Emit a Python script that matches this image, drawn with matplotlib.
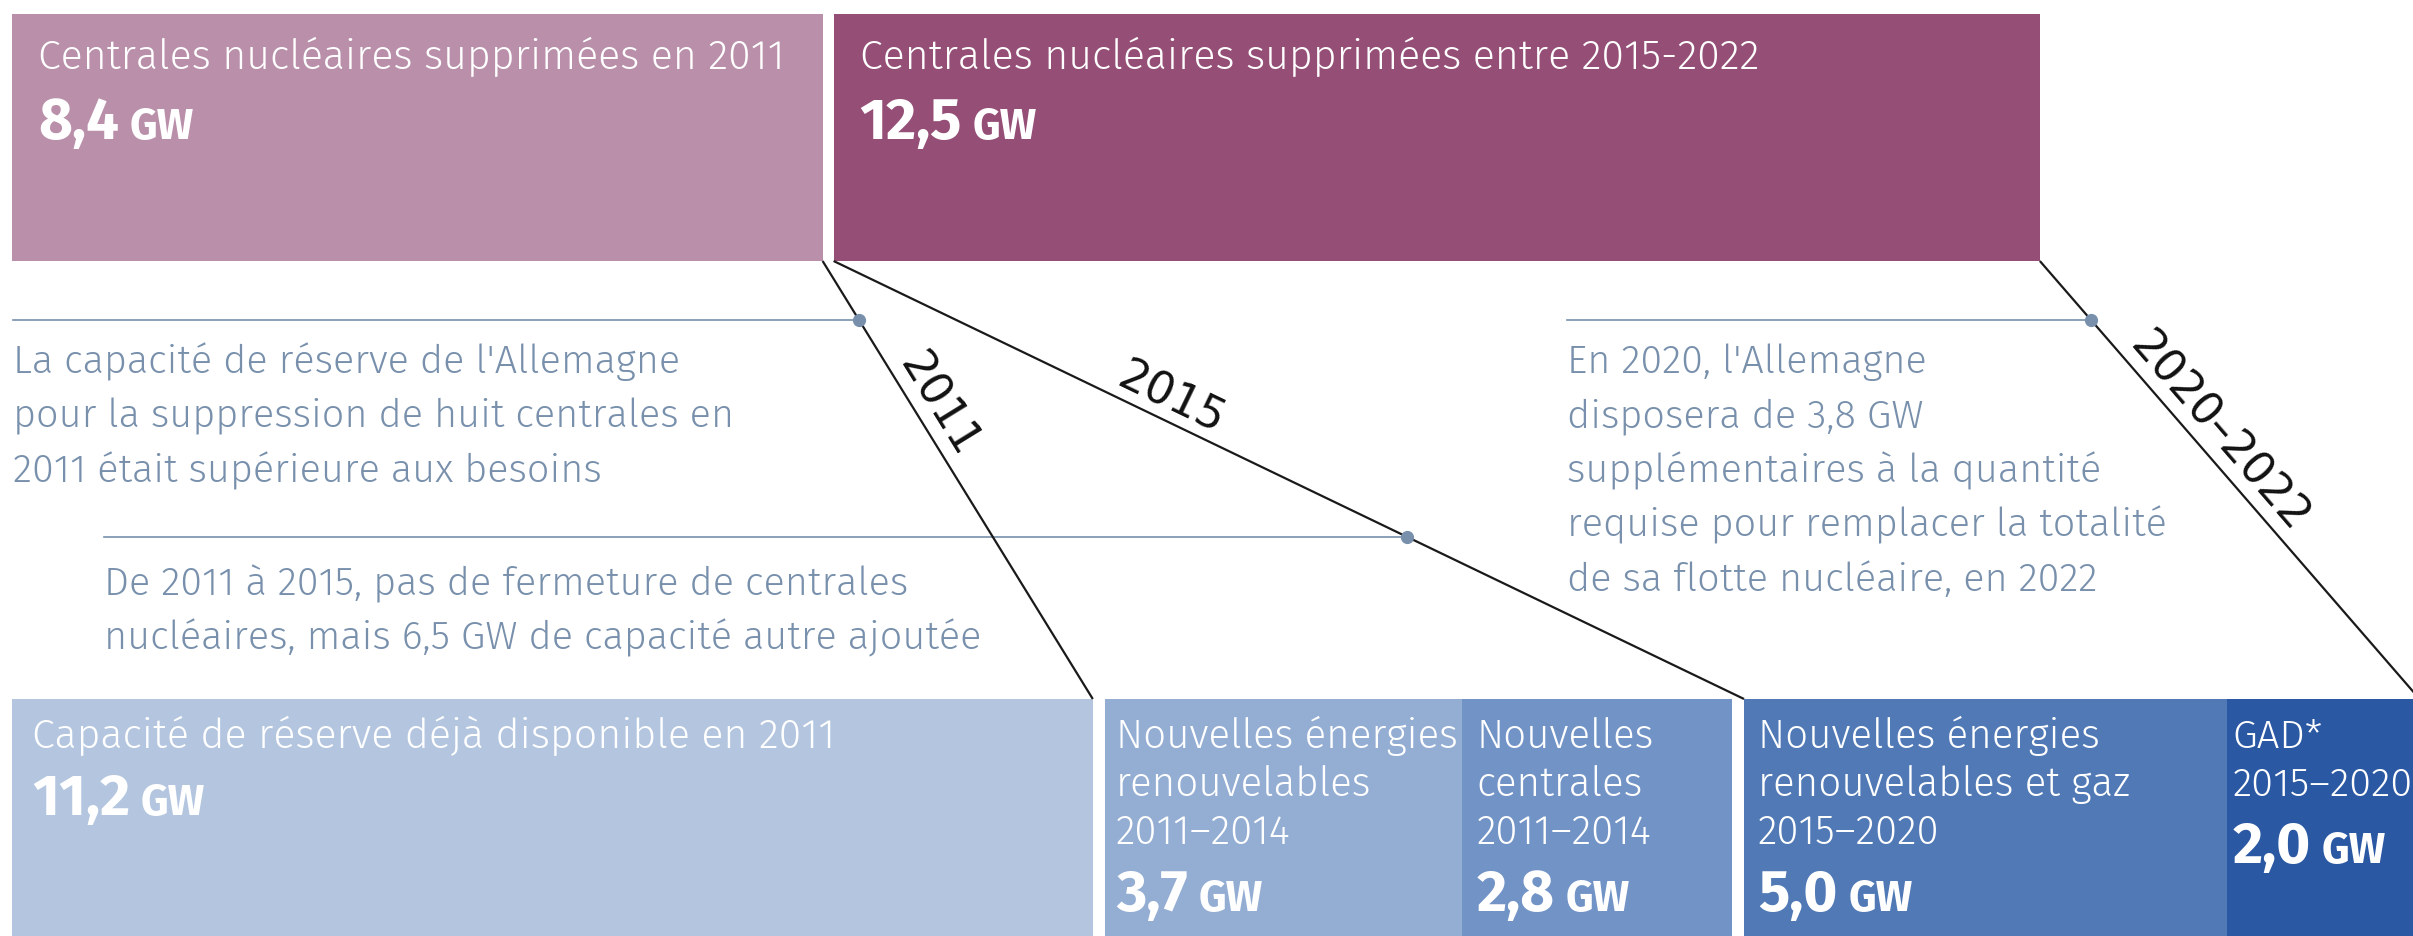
import numpy as np
import matplotlib
matplotlib.use('Agg')
import matplotlib.pyplot as plt
from matplotlib import font_manager

# ---- data (GW) ----
top_titles = ['Centrales nucléaires supprimées en 2011',
              'Centrales nucléaires supprimées entre 2015-2022']
top_values = [8.4, 12.5]
top_colors = ['#b98faa', '#954f77']

bottom_titles = [['Capacité de réserve déjà disponible en 2011'],
                 ['Nouvelles énergies', 'renouvelables', '2011–2014'],
                 ['Nouvelles', 'centrales', '2011–2014'],
                 ['Nouvelles énergies', 'renouvelables et gaz', '2015–2020'],
                 ['GAD*', '2015–2020']]
bottom_values = [11.2, 3.7, 2.8, 5.0, 2.0]
bottom_groups = [0, 1, 1, 2, 2]
bottom_colors = ['#b4c6df', '#93add3', '#7293c6', '#5079b5', '#2b58a3']

# connectors: (top box, side) -> (bottom box, side), label
link_top = [(0, 1), (1, 0), (1, 1)]
link_bottom = [(0, 1), (3, 0), (4, 1)]
link_labels = ['2011', '2015', '2020–2022']

notes = [["La capacité de réserve de l'Allemagne",
          'pour la suppression de huit centrales en',
          '2011 était supérieure aux besoins'],
         ['De 2011 à 2015, pas de fermeture de centrales',
          'nucléaires, mais 6,5 GW de capacité autre ajoutée'],
         ["En 2020, l'Allemagne",
          'disposera de 3,8 GW',
          'supplémentaires à la quantité',
          'requise pour remplacer la totalité',
          'de sa flotte nucléaire, en 2022']]

# ---- layout (pixels) ----
W, H = 2413, 937
PPG = 96.5                      # pixels per GW
TOP_Y0, TOP_Y1 = 15, 262
BOT_Y0, BOT_Y1 = 700, 937
note_x = [13, 104, 1567]
note_y = [321, 538, 321]
note_base = [373, 595, 373]
note_step = 54.5
bot_pad = [20, 11, 15, 14, 6]
bot_fs = [29.6, 29.0, 29.0, 29.0, 28.8]
label_t = [0.355, 0.36, 0.425]

def px(v):
    return v / PPG

avail = {f.name for f in font_manager.fontManager.ttflist}
fam = [f for f in ['Fira Sans', 'Open Sans'] if f in avail] + ['DejaVu Sans']
plt.rcParams['font.family'] = fam

fig = plt.figure(figsize=(W / 100, H / 100), dpi=100)
ax = fig.add_axes([0, 0, 1, 1])
ax.set_xlim(0, px(W))
ax.set_ylim(H, 0)
ax.axis('off')

# box positions in GW
top_left = []
x = px(12)
for v in top_values:
    top_left.append(x)
    x += v + px(11)

bot_left = []
x = px(12)
prev = bottom_groups[0]
for v, g in zip(bottom_values, bottom_groups):
    if g != prev:
        x += px(12)
        prev = g
    bot_left.append(x)
    x += v

ax.bar(top_left, [TOP_Y1 - TOP_Y0] * len(top_values), width=top_values, bottom=TOP_Y0,
       align='edge', color=top_colors, linewidth=0)
ax.bar(bot_left, [BOT_Y1 - BOT_Y0] * len(bottom_values), width=bottom_values, bottom=BOT_Y0,
       align='edge', color=bottom_colors, linewidth=0)

note_col = '#7890ac'
title_fs = 29.6
num_fs = 42
gw_fs = 31

def number(xp, yb, val):
    t = ax.text(xp, yb, f'{val:.1f}'.replace('.', ','), color='white', fontsize=num_fs,
                fontweight='bold', va='baseline', ha='left')
    ax.annotate('GW', xy=(1, yb), xycoords=(t, 'data'), xytext=(11, 0),
                textcoords='offset pixels', color='white', fontsize=gw_fs,
                fontweight='bold', va='baseline', ha='left')

# top box texts
for i in range(len(top_values)):
    xp = top_left[i] + px(26)
    ax.text(xp, 69, top_titles[i], color='white', fontsize=title_fs, fontweight=300,
            va='baseline', ha='left')
    number(xp, 139, top_values[i])

# bottom box texts
for i in range(len(bottom_values)):
    xp = bot_left[i] + px(bot_pad[i])
    yb = 748
    for k, line in enumerate(bottom_titles[i]):
        yb = 748 + 48 * k
        ax.text(xp, yb, line, color='white', fontsize=bot_fs[i], fontweight=300,
                va='baseline', ha='left')
    number(xp, yb + 67, bottom_values[i])

# connectors
ends = []
for (ti, ts), (bi, bs) in zip(link_top, link_bottom):
    x0 = top_left[ti] + ts * top_values[ti]
    x1 = bot_left[bi] + bs * bottom_values[bi]
    ax.plot([x0, x1], [TOP_Y1, BOT_Y0], color='#1a1a1a', lw=1.6, solid_capstyle='butt', zorder=3)
    ends.append((x0, x1))

for (x0, x1), lab, t in zip(ends, link_labels, label_t):
    d0 = ax.transData.transform((x0, TOP_Y1))
    d1 = ax.transData.transform((x1, BOT_Y0))
    ang = np.degrees(np.arctan2(d1[1] - d0[1], d1[0] - d0[0]))
    nx, ny = -np.sin(np.radians(ang)), np.cos(np.radians(ang))
    xy = (x0 + t * (x1 - x0), TOP_Y1 + t * (BOT_Y0 - TOP_Y1))
    ax.annotate(lab, xy=xy, xytext=(2 * nx, 2 * ny), textcoords='offset pixels',
                rotation=ang, rotation_mode='anchor', ha='center', va='bottom',
                fontsize=32, color='#111111', family='DejaVu Sans')

# notes with leader lines and dots
for k, lines in enumerate(notes):
    x0, x1 = ends[k]
    yd = note_y[k]
    xd = x0 + (yd - TOP_Y1) / (BOT_Y0 - TOP_Y1) * (x1 - x0)
    ax.plot([px(note_x[k]), xd], [yd, yd], color=note_col, lw=1.2, zorder=2)
    ax.plot([xd], [yd], 'o', color=note_col, markersize=8.5, zorder=4)
    for j, line in enumerate(lines):
        ax.text(px(note_x[k]), note_base[k] + j * note_step, line, color=note_col,
                fontsize=28.5, fontweight=300, va='baseline', ha='left')

fig.savefig('out.png', dpi=100)
